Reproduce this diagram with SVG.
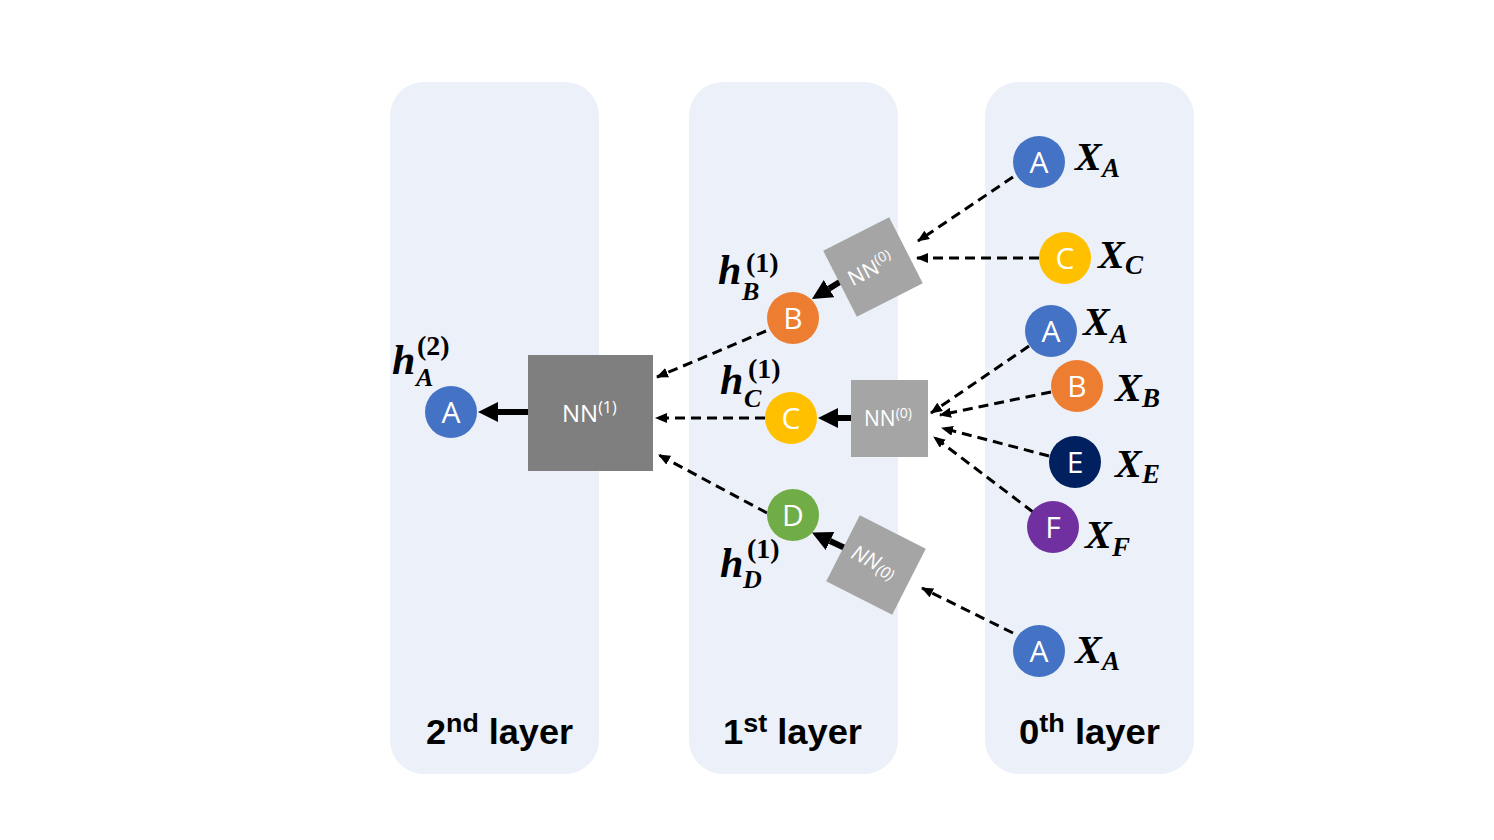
<svg xmlns="http://www.w3.org/2000/svg" width="1494" height="840" viewBox="0 0 1494 840">
<style>
.panel{fill:#ECF0F8}
.nl{font-family:"Open Sans","Liberation Sans",sans-serif;font-size:30px;fill:#fff;text-anchor:middle}
.nn{font-family:"Open Sans","Liberation Sans",sans-serif;fill:#fff}
.m{font-family:"Liberation Serif",serif;font-weight:bold;font-style:italic;fill:#000}
.mu{font-family:"Liberation Serif",serif;font-weight:bold;fill:#000}
.lay{font-family:"Liberation Sans",Arial,sans-serif;font-weight:bold;font-size:35px;fill:#000}
.d{stroke:#000;stroke-width:3;stroke-dasharray:10 6;fill:none}
.t{stroke:#000;stroke-width:6;fill:none}
</style>
<defs>
<marker id="ah" markerUnits="userSpaceOnUse" markerWidth="13" markerHeight="11" refX="11" refY="5" orient="auto" viewBox="0 0 13 11">
<path d="M0,0 L12,5 L0,10 z" fill="#000"/>
</marker>
<marker id="th" markerUnits="userSpaceOnUse" markerWidth="21" markerHeight="20" refX="0" refY="10" orient="auto" viewBox="0 0 21 20">
<path d="M0,0 L20,10 L0,20 z" fill="#000"/>
</marker>
</defs>
<rect width="1494" height="840" fill="#fff"/>
<g id="panels">
<rect class="panel" x="390" y="82" width="209" height="692" rx="34"/>
<rect class="panel" x="689" y="82" width="209" height="692" rx="34"/>
<rect class="panel" x="985" y="82" width="209" height="692" rx="34"/>
<text class="lay" x="426" y="744" textLength="147" lengthAdjust="spacingAndGlyphs">2<tspan font-size="26" dy="-12">nd</tspan><tspan dy="12"> layer</tspan></text>
<text class="lay" x="723" y="744" textLength="139" lengthAdjust="spacingAndGlyphs">1<tspan font-size="26" dy="-12">st</tspan><tspan dy="12"> layer</tspan></text>
<text class="lay" x="1019" y="744" textLength="141" lengthAdjust="spacingAndGlyphs">0<tspan font-size="26" dy="-12">th</tspan><tspan dy="12"> layer</tspan></text>
</g>
<g id="connectors">
<line class="d" x1="1013" y1="177" x2="918" y2="241" marker-end="url(#ah)"/>
<line class="d" x1="1039" y1="258" x2="917" y2="258" marker-end="url(#ah)"/>
<line class="d" x1="766" y1="331" x2="657" y2="377" marker-end="url(#ah)"/>
<line class="d" x1="765" y1="418" x2="656" y2="418" marker-end="url(#ah)"/>
<line class="d" x1="767" y1="513" x2="659" y2="455" marker-end="url(#ah)"/>
<line class="d" x1="1029" y1="346" x2="931" y2="413" marker-end="url(#ah)"/>
<line class="d" x1="1051" y1="392" x2="940" y2="415" marker-end="url(#ah)"/>
<line class="d" x1="1049" y1="456" x2="942" y2="428" marker-end="url(#ah)"/>
<line class="d" x1="1033" y1="512" x2="934" y2="437" marker-end="url(#ah)"/>
<line class="d" x1="1013" y1="633" x2="922" y2="588" marker-end="url(#ah)"/>
<line class="t" x1="529" y1="412" x2="498" y2="412" marker-end="url(#th)"/>
<line class="t" x1="852" y1="418" x2="838" y2="418" marker-end="url(#th)"/>
<line class="t" x1="843" y1="280" x2="829" y2="288.6" marker-end="url(#th)"/>
<line class="t" x1="846" y1="548.5" x2="830" y2="541" marker-end="url(#th)"/>
</g>
<g id="nn1">
<rect x="528" y="355" width="125" height="116" fill="#7F7F7F"/>
<text class="nn" x="562" y="422" font-size="24">NN<tspan font-size="16" dy="-9">(1)</tspan></text>
</g>
<g id="nn0-top" transform="translate(873,267) rotate(-27)">
<rect x="-37" y="-37" width="74" height="74" fill="#A5A5A5"/>
<text class="nn" x="-27" y="8" font-size="21">NN<tspan font-size="14" dy="-8">(0)</tspan></text>
</g>
<g id="nn0-mid">
<rect x="851" y="380" width="77" height="77" fill="#A5A5A5"/>
<text class="nn" x="864" y="426" font-size="21">NN<tspan font-size="14" dy="-8">(0)</tspan></text>
</g>
<g id="nn0-bot" transform="translate(876,565) rotate(27)">
<rect x="-37" y="-37" width="74" height="74" fill="#A5A5A5"/>
<text class="nn" x="-27" y="5" font-size="21" font-style="italic">NN<tspan font-size="16" dy="3">(0)</tspan></text>
</g>
<g id="n2-A"><circle cx="451" cy="412" r="26" fill="#4472C4"/><text class="nl" x="451" y="423">A</text>
<text class="m" x="392" y="374" font-size="42">h</text><text class="mu" x="417" y="355" font-size="28">(2)</text><text class="m" x="416" y="386" font-size="26">A</text></g>
<g id="n1-B"><circle cx="793" cy="318" r="26" fill="#ED7D31"/><text class="nl" x="793" y="329">B</text>
<text class="m" x="718" y="284" font-size="42">h</text><text class="mu" x="746" y="272" font-size="28">(1)</text><text class="m" x="742" y="300" font-size="26">B</text></g>
<g id="n1-C"><circle cx="791" cy="418" r="26" fill="#FFC000"/><text class="nl" x="791" y="429">C</text>
<text class="m" x="720" y="394" font-size="42">h</text><text class="mu" x="748" y="378" font-size="28">(1)</text><text class="m" x="744" y="407" font-size="26">C</text></g>
<g id="n1-D"><circle cx="793" cy="515" r="26" fill="#70AD47"/><text class="nl" x="793" y="526">D</text>
<text class="m" x="720" y="577" font-size="42">h</text><text class="mu" x="747" y="558" font-size="28">(1)</text><text class="m" x="743" y="588" font-size="26">D</text></g>
<g id="n0-A1"><circle cx="1039" cy="162" r="26" fill="#4472C4"/><text class="nl" x="1039" y="173">A</text>
<text class="m" x="1075" y="170" font-size="40">X</text><text class="m" x="1102" y="177" font-size="27">A</text></g>
<g id="n0-C"><circle cx="1065" cy="258" r="26" fill="#FFC000"/><text class="nl" x="1065" y="269">C</text>
<text class="m" x="1098" y="268" font-size="40">X</text><text class="m" x="1125" y="274" font-size="27">C</text></g>
<g id="n0-A2"><circle cx="1051" cy="331" r="26" fill="#4472C4"/><text class="nl" x="1051" y="342">A</text>
<text class="m" x="1083" y="335" font-size="40">X</text><text class="m" x="1110" y="343" font-size="27">A</text></g>
<g id="n0-B"><circle cx="1077" cy="386" r="26" fill="#ED7D31"/><text class="nl" x="1077" y="397">B</text>
<text class="m" x="1115" y="401" font-size="40">X</text><text class="m" x="1142" y="407" font-size="27">B</text></g>
<g id="n0-E"><circle cx="1075" cy="462" r="26" fill="#002060"/><text class="nl" x="1075" y="473">E</text>
<text class="m" x="1115" y="477" font-size="40">X</text><text class="m" x="1142" y="483" font-size="27">E</text></g>
<g id="n0-F"><circle cx="1053" cy="527" r="26" fill="#7030A0"/><text class="nl" x="1053" y="538">F</text>
<text class="m" x="1085" y="548" font-size="40">X</text><text class="m" x="1112" y="556" font-size="27">F</text></g>
<g id="n0-A3"><circle cx="1039" cy="651" r="26" fill="#4472C4"/><text class="nl" x="1039" y="662">A</text>
<text class="m" x="1075" y="663" font-size="40">X</text><text class="m" x="1102" y="670" font-size="27">A</text></g>
</svg>
